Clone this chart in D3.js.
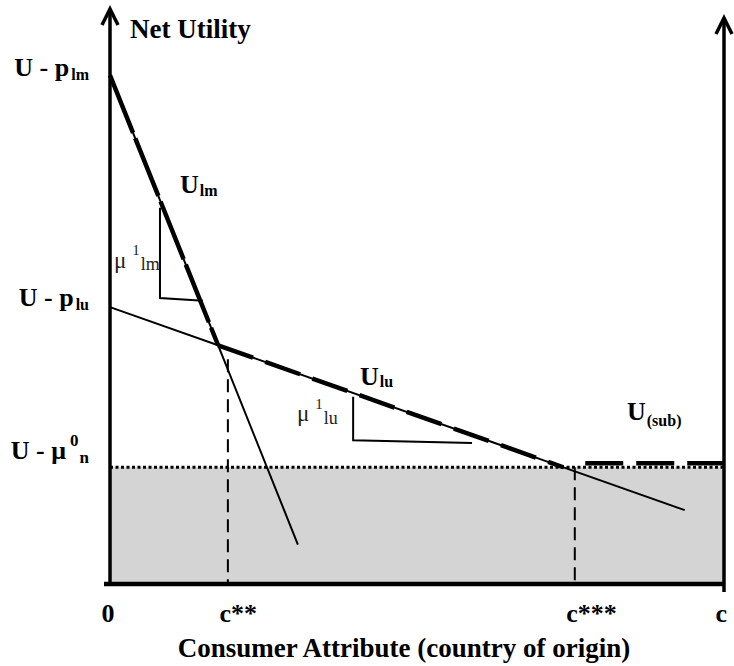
<!DOCTYPE html>
<html>
<head>
<meta charset="utf-8">
<script src="https://cdn.jsdelivr.net/npm/d3@7/dist/d3.min.js"></script>
</head>
<body style="margin:0;background:#fff">
<svg id="chart" width="734" height="666" style="display:block"></svg>
<script>
// Utility schedules (x: consumer attribute 0..c, y: net utility)
const lmLine = [[0, 90.2], [30.6, 7.0]];      // U_lm
const luLine = [[0, 49.1], [93.6, 13.1]];     // U_lu
const outsideLevel = 20.7;                    // U - mu0_n
const subLevel = 21.4;                        // U_(sub)
const subStart = 77.4;
const xEnd = 100;

// slope triangles
const lmTriangle = [[8.14, 66.7], [8.14, 50.7], [15.15, 50.2]];
const luTriangle = [[39.6, 33.2], [39.6, 25.5], [58.96, 25.0]];

// axis labels
const xTickValues = [0, 19.2, 75.7, 100];
const xTickLabels = ["0", "c**", "c***", "c"];
const yTickValues = [90.2, 49.1, 20.7];
const yTickMain = ["U - p", "U - p", "U - \u03bc"];
const yTickSup = ["", "", "0"];
const yTickSub = ["lm", "lu", "n"];

const FONT = "Liberation Serif";
const svg = d3.select("#chart");
const x = d3.scaleLinear().domain([0, 100]).range([110, 724]);
const y = d3.scaleLinear().domain([0, 100]).range([584, 20]);
const line = d3.line().x(d => x(d[0])).y(d => y(d[1]));

function meet(a, b) {
  const sa = (a[1][1] - a[0][1]) / (a[1][0] - a[0][0]);
  const sb = (b[1][1] - b[0][1]) / (b[1][0] - b[0][0]);
  const xi = (b[0][1] - a[0][1]) / (sa - sb);
  return [xi, a[0][1] + sa * xi];
}
function atLevel(a, level) {
  const s = (a[1][1] - a[0][1]) / (a[1][0] - a[0][0]);
  const xi = (level - a[0][1]) / s;
  return [xi, level];
}
const kink = meet(lmLine, luLine);
const exitPt = atLevel(luLine, outsideLevel);

// shaded region below the outside option
svg.append("rect")
  .attr("x", x(0)).attr("y", y(outsideLevel))
  .attr("width", x(xEnd) - x(0)).attr("height", y(0) - y(outsideLevel))
  .attr("fill", "#d4d4d4");

// dotted outside-option level
svg.append("path")
  .attr("d", line([[0, outsideLevel], [xEnd, outsideLevel]]))
  .attr("stroke", "#000").attr("stroke-width", 3)
  .attr("stroke-dasharray", "3,2.5").attr("fill", "none");

// thin utility lines
[lmLine, luLine].forEach(l => {
  svg.append("path").attr("d", line(l))
    .attr("stroke", "#000").attr("stroke-width", 2).attr("fill", "none");
});

// vertical guides at c** and c***
[[xTickValues[1], kink[1] - 2.5], [xTickValues[2], outsideLevel]].forEach(([cx, top]) => {
  svg.append("path").attr("d", line([[cx, top], [cx, 0]]))
    .attr("stroke", "#000").attr("stroke-width", 2)
    .attr("stroke-dasharray", "13,7").attr("fill", "none");
});

// upper envelope (thick dashed): U_lm segment, U_lu segment, then U_(sub)
svg.append("path")
  .attr("d", line([lmLine[0], kink]))
  .attr("stroke", "#000").attr("stroke-width", 4.5)
  .attr("stroke-dasharray", "62,6").attr("fill", "none");
svg.append("path")
  .attr("d", line([kink, exitPt]))
  .attr("stroke", "#000").attr("stroke-width", 4.5)
  .attr("stroke-dasharray", "37,13").attr("fill", "none");
svg.append("path")
  .attr("d", line([[subStart, subLevel], [xEnd, subLevel]]))
  .attr("stroke", "#000").attr("stroke-width", 4.5)
  .attr("stroke-dasharray", "38,13").attr("fill", "none");

// slope triangles
[lmTriangle, luTriangle].forEach(t => {
  svg.append("path").attr("d", line(t))
    .attr("stroke", "#000").attr("stroke-width", 2).attr("fill", "none");
});

// axes lines with arrowheads
svg.append("line").attr("x1", x(0)).attr("x2", x(0)).attr("y1", y(0)).attr("y2", 9)
  .attr("stroke", "#000").attr("stroke-width", 3.5);
svg.append("path").attr("d", `M${x(0) - 8},25 L${x(0)},9 L${x(0) + 8},25`)
  .attr("stroke", "#000").attr("stroke-width", 3.5).attr("fill", "none");
svg.append("line").attr("x1", x(xEnd)).attr("x2", x(xEnd)).attr("y1", y(0) + 8).attr("y2", 18)
  .attr("stroke", "#000").attr("stroke-width", 3.5);
svg.append("path").attr("d", `M${x(xEnd) - 8},34 L${x(xEnd)},18 L${x(xEnd) + 8},34`)
  .attr("stroke", "#000").attr("stroke-width", 3.5).attr("fill", "none");
svg.append("line").attr("x1", x(0) - 6).attr("x2", x(xEnd) + 1).attr("y1", y(0)).attr("y2", y(0))
  .attr("stroke", "#000").attr("stroke-width", 4.5);

// x axis labels
const xAxis = svg.append("g").attr("transform", `translate(0,${y(0)})`)
  .call(d3.axisBottom(x).tickValues(xTickValues)
    .tickFormat((d, i) => xTickLabels[i]).tickSize(0).tickPadding(0));
xAxis.select(".domain").remove();
xAxis.attr("font-family", FONT).attr("font-size", null);
xAxis.selectAll("text")
  .attr("y", 38).attr("dy", 0).attr("dx", -9)
  .attr("text-anchor", "start")
  .style("font-family", FONT)
  .attr("font-size", 26).attr("font-weight", "bold").attr("fill", "#000");

// y axis labels with sub/superscripts
const labelNudge = [0, -2, -9];
const yAxis = svg.append("g").attr("transform", `translate(${x(0)},0)`)
  .call(d3.axisLeft(y).tickValues(yTickValues).tickFormat("").tickSize(0));
yAxis.select(".domain").remove();
yAxis.attr("font-family", FONT).attr("font-size", null);
yAxis.selectAll(".tick").each(function (d, i) {
  const t = d3.select(this).append("text")
    .attr("x", -21).attr("y", labelNudge[i]).attr("text-anchor", "end")
    .style("font-family", FONT)
    .attr("font-weight", "bold").attr("fill", "#000");
  t.append("tspan").attr("font-size", 26).text(yTickMain[i]);
  if (yTickSup[i]) {
    t.append("tspan").attr("font-size", 17).attr("dx", 4).attr("dy", -13).text(yTickSup[i]);
    t.append("tspan").attr("font-size", 17).attr("dx", 1).attr("dy", 17).text(yTickSub[i]);
  } else {
    t.append("tspan").attr("font-size", 16).attr("dx", 2).attr("dy", 4).text(yTickSub[i]);
  }
});

// curve and slope labels
function richLabel(px, py, parts, weight) {
  const t = svg.append("text").attr("x", px).attr("y", py)
    .style("font-family", FONT)
    .attr("font-weight", weight).attr("fill", weight === "bold" ? "#000" : "#222");
  parts.forEach(p => {
    t.append("tspan").attr("font-size", p.size).attr("dx", p.dx || 0).attr("dy", p.dy || 0).text(p.text);
  });
}
richLabel(180, 193, [{ text: "U", size: 26 }, { text: "lm", size: 16, dx: 1, dy: 3 }], "bold");
richLabel(360, 385, [{ text: "U", size: 26 }, { text: "lu", size: 16, dx: 1, dy: 2 }], "bold");
richLabel(627, 420, [{ text: "U", size: 26 }, { text: "(sub)", size: 16, dx: 1, dy: 6 }], "bold");
richLabel(114, 268, [{ text: "\u03bc", size: 23 }, { text: "1", size: 15, dx: 6, dy: -13 }, { text: "lm", size: 18, dx: 1, dy: 15 }], "normal");
richLabel(297, 421, [{ text: "\u03bc", size: 23 }, { text: "1", size: 15, dx: 6, dy: -12 }, { text: "lu", size: 18, dx: 1, dy: 15 }], "normal");

// axis titles
svg.append("text").attr("x", 130).attr("y", 38)
  .style("font-family", FONT)
  .attr("font-size", 27).attr("font-weight", "bold").attr("fill", "#000")
  .text("Net Utility");
svg.append("text").attr("x", 404).attr("y", 657).attr("text-anchor", "middle")
  .style("font-family", FONT)
  .attr("font-size", 27).attr("font-weight", "bold").attr("fill", "#000")
  .text("Consumer Attribute (country of origin)");
</script>
</body>
</html>
